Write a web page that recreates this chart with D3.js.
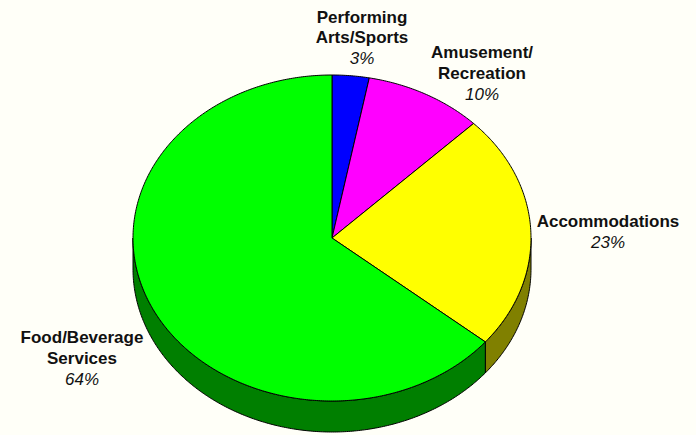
<!DOCTYPE html>
<html>
<head>
<meta charset="utf-8">
<script src="https://cdn.jsdelivr.net/npm/d3@7"></script>
<style>
  body { margin: 0; background: #fffff8; }
  text { font-family: "Liberation Sans", Arial, sans-serif; fill: #111; }
  .name { font-weight: bold; font-size: 17px; }
  .pct { font-style: italic; font-size: 17px; }
</style>
</head>
<body>
<script>
// pie slices, clockwise from 12 o'clock
var sectors = [["Performing", "Arts/Sports"], ["Amusement/", "Recreation"], ["Accommodations"], ["Food/Beverage", "Services"]];
var shares = [3.0, 9.6, 23.4, 64.0];
var topColors = ["#0000ff", "#ff00ff", "#ffff00", "#00ff00"];
var sideColors = ["#00007f", "#7f007f", "#808000", "#007f00"];

// label anchor (centre x, first baseline) per slice
var labelPos = [[362, 22.5], [482, 58], [608, 227], [82, 343]];

var width = 696,
    height = 435,
    cx = 332, cy = 238,
    rx = 199, ry = 163,
    depth = 31,
    lineH = 21;

var svg = d3.select("body").append("svg")
    .attr("width", width)
    .attr("height", height);

var pie = d3.pie()
    .sort(null)
    .value(function(d) { return d; });

var slices = pie(shares);

function pt(t, dy) {
  return [cx + rx * Math.sin(t), cy - ry * Math.cos(t) + (dy || 0)];
}

function arcPts(a0, a1, dy) {
  var n = Math.max(2, Math.ceil(Math.abs(a1 - a0) / 0.01));
  return d3.range(n + 1).map(function(i) { return pt(a0 + (a1 - a0) * i / n, dy); });
}

var line = d3.line().curve(d3.curveLinear);

// front side walls (lower half of ellipse: pi/2 .. 3pi/2)
slices.forEach(function(d, i) {
  var s = Math.max(d.startAngle, Math.PI / 2),
      e = Math.min(d.endAngle, 3 * Math.PI / 2);
  if (e <= s) return;
  var pts = arcPts(s, e, 0).concat(arcPts(e, s, depth));
  svg.append("path")
      .attr("d", line(pts) + "Z")
      .style("fill", sideColors[i])
      .style("stroke", "#000")
      .style("stroke-width", 1)
      .style("stroke-linejoin", "round");
});

// top faces
svg.selectAll(".slice")
    .data(slices)
  .enter().append("path")
    .attr("class", "slice")
    .attr("d", function(d) {
      return line([[cx, cy]].concat(arcPts(d.startAngle, d.endAngle, 0))) + "Z";
    })
    .style("fill", function(d, i) { return topColors[i]; })
    .style("stroke", "#000")
    .style("stroke-width", 1)
    .style("stroke-linejoin", "round");

// labels
var lab = svg.selectAll(".label")
    .data(slices)
  .enter().append("text")
    .attr("class", "label")
    .attr("text-anchor", "middle");

lab.each(function(d, i) {
  var t = d3.select(this),
      x = labelPos[i][0],
      y = labelPos[i][1],
      h = i === 0 ? 20.5 : lineH;
  sectors[i].forEach(function(s, j) {
    t.append("tspan").attr("class", "name").attr("x", x).attr("y", y + j * h).text(s);
  });
  t.append("tspan").attr("class", "pct").attr("x", x)
      .attr("y", y + sectors[i].length * h).text(Math.round(d.data) + "%");
});
</script>
</body>
</html>
